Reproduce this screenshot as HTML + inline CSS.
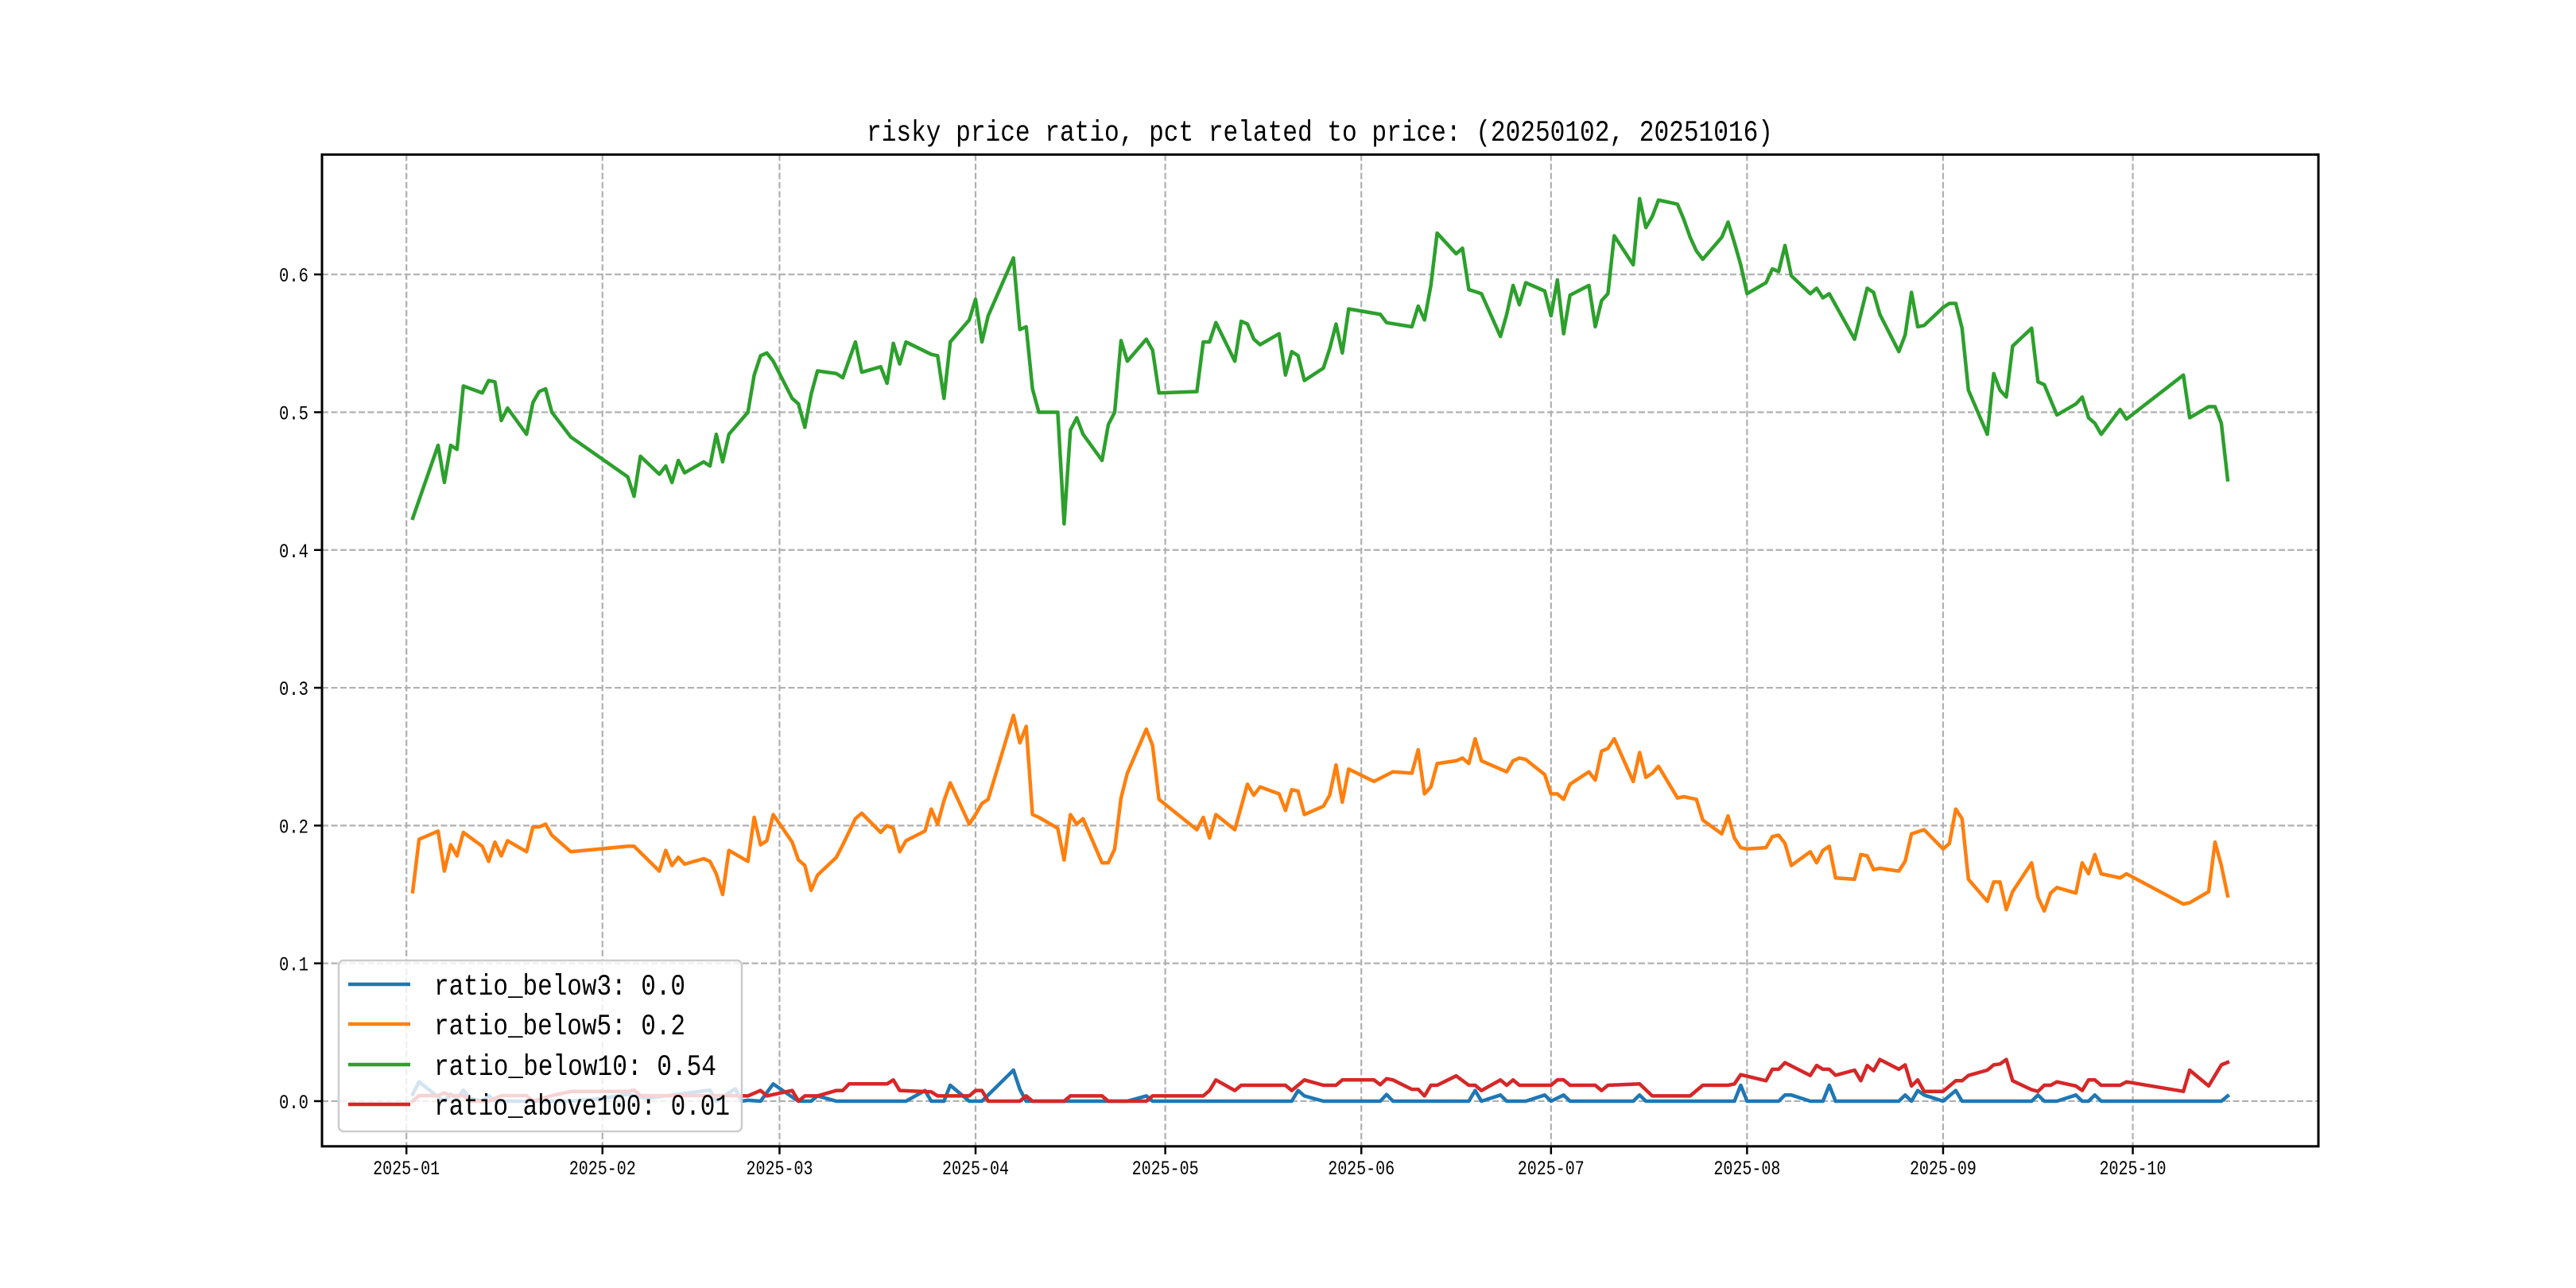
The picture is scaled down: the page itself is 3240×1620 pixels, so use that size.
<!DOCTYPE html>
<html><head><meta charset="utf-8"><title>risky price ratio</title>
<style>html,body{margin:0;padding:0;background:#fff}svg{display:block}</style></head>
<body>
<svg id="chart" xmlns="http://www.w3.org/2000/svg" width="3240" height="1620" viewBox="0 0 3240 1620" font-family="'Liberation Mono', 'WenQuanYi Zen Hei', monospace">
<rect x="0" y="0" width="3240" height="1620" fill="#ffffff"/>
<text x="1660" y="177" font-size="37" text-anchor="middle" textLength="1140" lengthAdjust="spacingAndGlyphs" fill="#000">risky price ratio, pct related to price: (20250102, 20251016)</text>
<g id="grid"></g>
<g id="series"></g>
<rect x="405" y="194.4" width="2511" height="1247.4" fill="none" stroke="#000" stroke-width="3"/>
<g id="ticks"></g>
<g id="legend"></g>
</svg>
<script>
// x tick labels (day offset from 2025-01-01)
const monthDays = [0,31,59,90,120,151,181,212,243,273];
const monthLabels = ['2025-01','2025-02','2025-03','2025-04','2025-05','2025-06','2025-07','2025-08','2025-09','2025-10'];
const yTicks = [0,0.1,0.2,0.3,0.4,0.5,0.6];
const yTickLabels = ['0.0','0.1','0.2','0.3','0.4','0.5','0.6'];
const seriesNames = ['ratio_below3: 0.0','ratio_below5: 0.2','ratio_below10: 0.54','ratio_above100: 0.01'];

const below3Days = [1,2,5,6,7,8,9,10,12,13,14,19,20,23,26,31,35,38,48,49,52,53,54,56,58,61,62,64,65,68,79,82,83,85,86,88,89,91,96,97,98,114,117,118,140,141,142,145,154,155,156,168,169,170,173,174,177,180,181,183,184,194,195,196,210,211,212,217,218,219,222,224,225,226,236,237,238,239,240,243,245,246,257,258,259,261,264,265,266,267,268,287,288];
const below3Vals = [0.005,0.014,0.003,0,0.005,0.002,0.008,0.002,0,0.004,0,0,0,0,0,0.002,0.005,0.002,0.008,0,0.009,0,0.0006,0,0.0125,0.003,0,0,0.0038,0,0,0.0077,0,0,0.0115,0.0038,0,0,0.0225,0.0086,0,0,0.0038,0,0,0.0077,0.0038,0,0,0.0048,0,0,0.0077,0,0.0044,0,0,0.0044,0,0.0044,0,0,0.0044,0,0,0.0115,0,0,0.0044,0.0044,0,0,0.0115,0,0,0.0044,0,0.0077,0.0044,0,0.0077,0,0,0.0044,0,0,0.0044,0,0,0.0044,0,0,0.0038];

const below5Days = [1,2,5,6,7,8,9,12,13,14,15,16,19,20,21,22,23,26,35,36,40,41,42,43,44,47,48,49,50,51,54,55,56,57,58,61,62,63,64,65,68,69,71,72,75,76,77,78,79,82,83,84,85,86,89,90,91,92,96,97,98,99,100,103,104,105,106,107,110,111,112,113,114,117,118,119,125,126,127,128,131,133,134,135,138,139,140,141,142,145,146,147,148,149,153,156,159,160,161,162,163,166,167,168,169,170,174,175,176,177,180,181,182,183,184,187,188,189,190,191,194,195,196,197,198,201,202,203,204,205,208,209,210,211,212,215,216,217,218,219,222,223,224,225,226,229,230,231,232,233,236,237,238,240,243,244,245,246,247,250,251,252,253,254,257,258,259,260,261,264,265,266,267,268,271,272,281,282,285,286,287,288];
const below5Vals = [0.152,0.190,0.196,0.167,0.186,0.178,0.195,0.185,0.174,0.188,0.178,0.189,0.181,0.199,0.199,0.201,0.193,0.181,0.185,0.185,0.167,0.182,0.171,0.177,0.172,0.176,0.174,0.165,0.150,0.182,0.174,0.206,0.186,0.189,0.208,0.188,0.175,0.171,0.153,0.164,0.177,0.186,0.205,0.209,0.195,0.200,0.198,0.181,0.189,0.196,0.212,0.201,0.218,0.231,0.201,0.208,0.216,0.219,0.280,0.260,0.272,0.208,0.206,0.198,0.175,0.208,0.201,0.205,0.173,0.173,0.183,0.220,0.238,0.270,0.258,0.219,0.197,0.206,0.191,0.208,0.197,0.230,0.222,0.228,0.223,0.211,0.226,0.225,0.208,0.214,0.222,0.244,0.217,0.241,0.232,0.239,0.238,0.255,0.223,0.228,0.245,0.247,0.249,0.245,0.263,0.247,0.239,0.247,0.249,0.248,0.237,0.223,0.223,0.219,0.230,0.239,0.233,0.254,0.256,0.263,0.232,0.253,0.235,0.238,0.243,0.220,0.221,0.220,0.219,0.204,0.194,0.207,0.191,0.184,0.183,0.184,0.192,0.193,0.187,0.171,0.181,0.173,0.182,0.185,0.162,0.161,0.179,0.178,0.168,0.169,0.167,0.174,0.194,0.197,0.183,0.187,0.212,0.205,0.161,0.145,0.159,0.159,0.139,0.152,0.173,0.148,0.138,0.151,0.155,0.151,0.173,0.165,0.179,0.165,0.162,0.165,0.143,0.144,0.152,0.188,0.171,0.149];

const below10Days = [1,5,6,7,8,9,12,13,14,15,16,19,20,21,22,23,26,35,36,37,40,41,42,43,44,47,48,49,50,51,54,55,56,57,58,61,62,63,64,65,68,69,71,72,75,76,77,78,79,83,84,85,86,89,90,91,92,96,97,98,99,100,103,104,105,106,107,110,111,112,113,114,117,118,119,125,126,127,128,131,132,133,134,135,138,139,140,141,142,145,146,147,148,149,154,155,159,160,161,162,163,166,167,168,170,173,174,175,176,177,180,181,182,183,184,187,188,189,190,191,194,195,196,197,198,201,202,203,204,205,208,209,210,211,212,215,216,217,218,219,222,223,224,225,229,231,232,233,236,237,238,239,240,243,244,245,246,247,250,251,252,253,254,257,258,259,261,264,265,266,267,268,271,272,281,282,285,286,287,288];
const below10Vals = [0.423,0.476,0.449,0.476,0.473,0.519,0.514,0.523,0.522,0.494,0.503,0.484,0.507,0.515,0.517,0.500,0.482,0.453,0.439,0.468,0.455,0.461,0.449,0.465,0.456,0.464,0.461,0.484,0.464,0.484,0.500,0.527,0.541,0.543,0.537,0.510,0.506,0.489,0.513,0.530,0.528,0.525,0.551,0.529,0.533,0.521,0.550,0.535,0.551,0.542,0.541,0.510,0.551,0.567,0.582,0.551,0.570,0.612,0.560,0.562,0.517,0.500,0.500,0.419,0.487,0.496,0.484,0.465,0.491,0.500,0.552,0.537,0.553,0.545,0.514,0.515,0.551,0.551,0.565,0.537,0.566,0.564,0.553,0.549,0.557,0.527,0.544,0.541,0.523,0.532,0.546,0.564,0.543,0.575,0.571,0.565,0.562,0.577,0.567,0.592,0.630,0.615,0.619,0.589,0.586,0.555,0.571,0.592,0.578,0.594,0.588,0.570,0.596,0.557,0.585,0.592,0.562,0.581,0.586,0.628,0.607,0.655,0.634,0.642,0.654,0.651,0.640,0.627,0.617,0.611,0.627,0.638,0.623,0.607,0.586,0.594,0.604,0.602,0.621,0.599,0.586,0.590,0.583,0.586,0.553,0.590,0.587,0.571,0.544,0.556,0.587,0.562,0.563,0.576,0.579,0.579,0.561,0.516,0.484,0.528,0.516,0.511,0.548,0.561,0.522,0.520,0.498,0.506,0.511,0.496,0.492,0.484,0.502,0.495,0.527,0.496,0.504,0.504,0.492,0.451];

const above100Days = [1,2,5,6,7,9,10,13,15,19,20,23,26,35,36,37,50,51,54,56,57,59,61,62,63,65,68,69,70,76,77,78,83,84,89,90,91,92,97,98,99,104,105,110,111,117,118,126,127,128,131,132,139,140,142,145,147,148,153,154,155,156,159,160,161,162,163,166,168,169,170,173,174,175,176,181,182,183,184,188,189,190,195,197,203,205,209,210,211,215,216,217,218,222,223,224,225,226,229,230,231,232,233,236,237,238,239,240,243,245,246,247,250,251,252,253,254,257,258,259,260,261,264,265,266,267,268,271,272,281,282,285,287,288];
const above100Vals = [0,0.004,0.004,0.006,0.004,0.004,0,0,0.004,0.004,0,0.004,0.007,0.007,0.008,0.004,0.004,0.004,0.0038,0.0077,0.0038,0.0058,0.0077,0,0.0038,0.0038,0.0077,0.0077,0.0125,0.0125,0.0154,0.0077,0.0067,0.0038,0.0038,0.0077,0.0077,0,0,0.0038,0,0,0.0038,0.0038,0,0,0.0038,0.0038,0.0077,0.0154,0.0077,0.0115,0.0115,0.0077,0.0154,0.0115,0.0115,0.0154,0.0154,0.0119,0.0163,0.0154,0.0086,0.0086,0.0038,0.0115,0.0115,0.0183,0.0115,0.0115,0.0077,0.0154,0.0115,0.0154,0.0115,0.0115,0.0154,0.0154,0.0115,0.0115,0.0077,0.0115,0.0125,0.0038,0.0038,0.0115,0.0115,0.0125,0.0192,0.0148,0.0231,0.0231,0.0279,0.0186,0.0259,0.0231,0.0231,0.0188,0.0225,0.0148,0.0259,0.0221,0.0302,0.0231,0.0263,0.0110,0.0154,0.0071,0.0071,0.0148,0.0148,0.0186,0.0225,0.0263,0.0269,0.0302,0.0148,0.0083,0.0071,0.0115,0.0115,0.0140,0.0110,0.0077,0.0154,0.0154,0.0115,0.0115,0.0140,0.0071,0.0225,0.0110,0.0263,0.0282];

const NS = 'http://www.w3.org/2000/svg';
const L = 405, R = 2916, T = 194.4, B = 1441.8;
const xMin = -13.35, xMax = 302.35, yMin = -0.0328, yMax = 0.687;
function xScale(d){ return L + (d - xMin) / (xMax - xMin) * (R - L); }
function yScale(v){ return B - (v - yMin) / (yMax - yMin) * (B - T); }
function mk(tag, attrs, parent){ const e = document.createElementNS(NS, tag); for (const k in attrs) e.setAttribute(k, attrs[k]); parent.appendChild(e); return e; }

const grid = document.getElementById('grid');
const ticks = document.getElementById('ticks');
monthDays.forEach((d, i) => {
  const x = xScale(d);
  const g = mk('line', {x1:x, x2:x, y1:T, y2:B, stroke:'#b0b0b0', 'stroke-width':2.2, 'stroke-dasharray':'8,3.5'}, grid);
  
  
  const t = mk('line', {x1:x, x2:x, y1:B, y2:B+10, stroke:'#000', 'stroke-width':2.5}, ticks);
  
  
  const lb = mk('text', {x:x, y:1477, 'font-size':25, 'text-anchor':'middle', textLength:84, lengthAdjust:'spacingAndGlyphs', fill:'#000'}, ticks);
  lb.textContent = monthLabels[i];
  
  
});
yTicks.forEach((v, i) => {
  const y = yScale(v);
  const g = mk('line', {x1:L, x2:R, y1:y, y2:y, stroke:'#b0b0b0', 'stroke-width':2.2, 'stroke-dasharray':'8,3.5'}, grid);
  
  
  const t = mk('line', {x1:L-10, x2:L, y1:y, y2:y, stroke:'#000', 'stroke-width':2.5}, ticks);
  
  
  const lb = mk('text', {x:388, y:y+9, 'font-size':25, 'text-anchor':'end', textLength:37, lengthAdjust:'spacingAndGlyphs', fill:'#000'}, ticks);
  lb.textContent = yTickLabels[i];
  
  
});

const colors = ['#1f77b4','#ff7f0e','#2ca02c','#d62728'];
const allDays = [below3Days, below5Days, below10Days, above100Days];
const allVals = [below3Vals, below5Vals, below10Vals, above100Vals];
const lineNames = ['line-ratio-below3','line-ratio-below5','line-ratio-below10','line-ratio-above100'];
const seriesG = document.getElementById('series');
allDays.forEach((days, s) => {
  const vals = allVals[s];
  const pts = days.map((d, i) => xScale(d).toFixed(1) + ',' + yScale(vals[i]).toFixed(1)).join(' ');
  const p = mk('polyline', {points:pts, fill:'none', stroke:colors[s], 'stroke-width':4.5, 'stroke-linejoin':'round', 'stroke-linecap':'square'}, seriesG);
  
  
});

const leg = document.getElementById('legend');
const box = mk('rect', {x:426, y:1208, width:507, height:215, rx:6, fill:'#ffffff', 'fill-opacity':0.8, stroke:'#cccccc', 'stroke-width':2.5}, leg);


const rowY = [1238, 1288, 1339, 1389];
const textLens = [316, 316, 355, 372];
seriesNames.forEach((name, s) => {
  const ln = mk('line', {x1:438, x2:516, y1:rowY[s], y2:rowY[s], stroke:colors[s], 'stroke-width':4.5}, leg);
  
  
  const tx = mk('text', {x:546, y:rowY[s]+13, 'font-size':37, textLength:textLens[s], lengthAdjust:'spacingAndGlyphs', fill:'#000'}, leg);
  tx.textContent = name;
  
  
});
</script>
</body></html>
